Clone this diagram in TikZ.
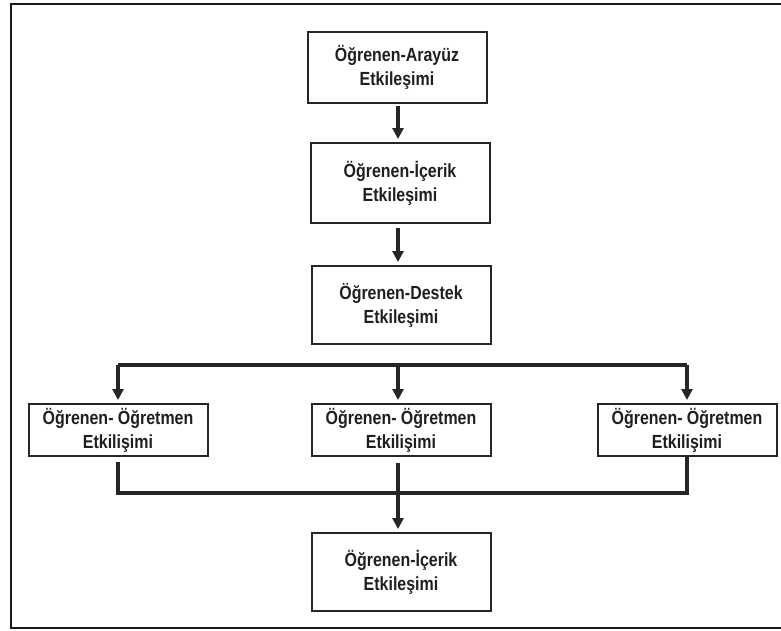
\documentclass[tikz,border=0pt]{standalone}
\usepackage{fontspec}
\setmainfont{Liberation Sans}[FakeStretch=0.84]
\usetikzlibrary{arrows.meta}
\begin{document}
\begin{tikzpicture}[x=1pt, y=-1pt,
  box/.style={draw=black!85, line width=2pt, minimum width=179pt, align=center, inner sep=0pt, font=\bfseries\fontsize{19}{24}\selectfont, text=black!88},
  arr/.style={-{Triangle[width=11pt,length=11pt]}, line width=3.5pt, draw=black!85, shorten <=4pt, shorten >=3pt},
  bus/.style={line width=4pt, draw=black!85}
]
\useasboundingbox (0,0) rectangle (781,630);
\draw[line width=2.5pt, black!90] (11,4) rectangle (800,628);

\node[box, minimum height=71pt] (b1) at (397,67.5) {Öğrenen-Arayüz\\Etkileşimi};
\node[box, minimum height=80pt] (b2) at (400,183) {Öğrenen-İçerik\\Etkileşimi};
\node[box, minimum height=78pt] (b3) at (401,305) {Öğrenen-Destek\\Etkileşimi};
\node[box, minimum height=52pt] (b4) at (118,430) {Öğrenen- Öğretmen\\Etkilişimi};
\node[box, minimum height=52pt] (b5) at (401,430) {Öğrenen- Öğretmen\\Etkilişimi};
\node[box, minimum height=52pt] (b6) at (687,430) {Öğrenen- Öğretmen\\Etkilişimi};
\node[box, minimum height=78pt] (b7) at (401,572) {Öğrenen-İçerik\\Etkileşimi};
\coordinate (split) at (398,365);
\coordinate (join) at (398,493);

\draw[arr, shorten <=2pt] (b1.south -| split) -- (b2.north -| split);
\draw[arr] (b2.south -| split) -- (b3.north -| split);

\draw[bus] (b4.north |- split) -- (b6.north |- split);
\draw[arr, shorten <=0pt] (b4.north |- split) -- (b4.north);
\draw[arr, shorten <=0pt] (split) -- (b5.north -| split);
\draw[arr, shorten <=0pt] (b6.north |- split) -- (b6.north);

\draw[bus, shorten <=5pt] (b4.south) -- (b4.south |- join) -- (b6.south |- join) -- (b6.south);
\draw[arr, shorten <=6pt] (b5.south -| split) -- (b7.north -| split);
\end{tikzpicture}
\end{document}
